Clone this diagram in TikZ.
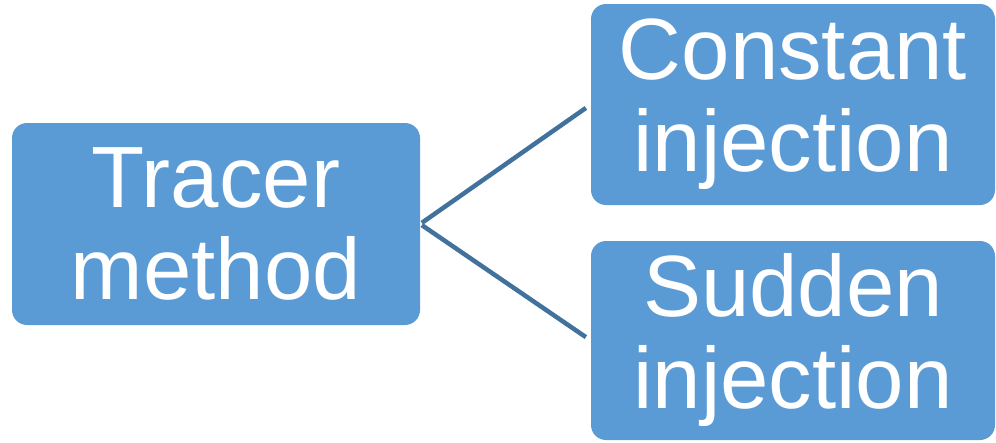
\documentclass[tikz,border=0pt]{standalone}
\usepackage{fontspec}
\setmainfont{Liberation Sans}
\definecolor{boxfill}{HTML}{5B9BD5}
\definecolor{linkcol}{HTML}{41719C}
\begin{document}
\begin{tikzpicture}[x=1pt,y=-1pt,
  block/.style={fill=boxfill, draw=none, rounded corners=15pt, inner sep=0pt,
    align=center, text=white, font=\fontsize{87}{92}\selectfont},
  link/.style={draw=linkcol, line width=4.5pt, shorten <=2pt, shorten >=6pt}]
  \useasboundingbox (0,0) rectangle (996,442);
  \node[block, minimum width=408pt, minimum height=202pt] (tracer) at (216,224) {Tracer\\method};
  \node[block, minimum width=404pt, minimum height=201pt] (const) at (793,104.5) {Constant\\injection};
  \node[block, minimum width=404pt, minimum height=199pt] (sudden) at (793,340.5) {Sudden\\injection};
  \draw[link] (tracer.east) -- (const.west);
  \draw[link] (tracer.east) -- (sudden.west);
\end{tikzpicture}
\end{document}
